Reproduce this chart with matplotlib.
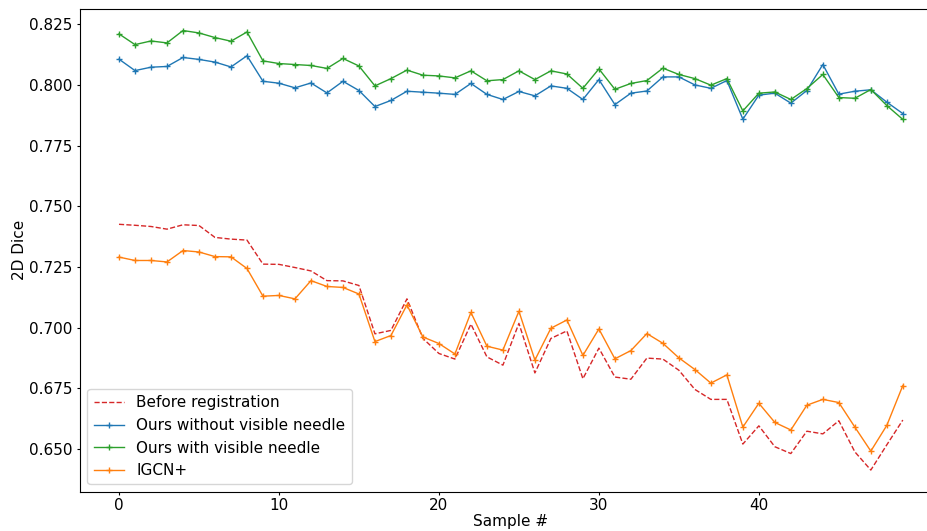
import matplotlib.pyplot as plt
import numpy as np

samples = np.arange(50)

before_registration = [
    0.7426, 0.7422, 0.7417, 0.7406, 0.7424, 0.7421, 0.7372, 0.7365, 0.7361, 0.7262,
    0.7261, 0.7248, 0.7234, 0.7194, 0.7193, 0.7174, 0.6975, 0.6989, 0.7119, 0.6956,
    0.6894, 0.6871, 0.7015, 0.6880, 0.6846, 0.7018, 0.6814, 0.6956, 0.6987, 0.6790,
    0.6916, 0.6797, 0.6788, 0.6875, 0.6871, 0.6825, 0.6746, 0.6705, 0.6705, 0.6521,
    0.6596, 0.6510, 0.6482, 0.6574, 0.6563, 0.6617, 0.6489, 0.6414, 0.6518, 0.6620,
]

ours_without_needle = [
    0.8106, 0.8059, 0.8073, 0.8076, 0.8113, 0.8105, 0.8094, 0.8074, 0.8120, 0.8015,
    0.8007, 0.7988, 0.8008, 0.7967, 0.8015, 0.7977, 0.7911, 0.7936, 0.7974, 0.7970,
    0.7966, 0.7961, 0.8006, 0.7961, 0.7940, 0.7973, 0.7955, 0.7996, 0.7986, 0.7940,
    0.8022, 0.7919, 0.7966, 0.7975, 0.8033, 0.8033, 0.8000, 0.7986, 0.8018, 0.7859,
    0.7958, 0.7966, 0.7925, 0.7977, 0.8084, 0.7962, 0.7974, 0.7980, 0.7929, 0.7882,
]

ours_with_needle = [
    0.8210, 0.8166, 0.8181, 0.8173, 0.8224, 0.8214, 0.8195, 0.8180, 0.8218, 0.8099,
    0.8088, 0.8084, 0.8080, 0.8068, 0.8109, 0.8078, 0.7996, 0.8026, 0.8061, 0.8040,
    0.8037, 0.8029, 0.8058, 0.8017, 0.8022, 0.8058, 0.8022, 0.8058, 0.8045, 0.7986,
    0.8066, 0.7982, 0.8006, 0.8018, 0.8069, 0.8043, 0.8026, 0.7999, 0.8026, 0.7893,
    0.7966, 0.7971, 0.7940, 0.7985, 0.8043, 0.7948, 0.7945, 0.7981, 0.7915, 0.7858,
]

igcn_plus = [
    0.7291, 0.7277, 0.7277, 0.7271, 0.7318, 0.7312, 0.7293, 0.7292, 0.7244, 0.7130,
    0.7133, 0.7119, 0.7194, 0.7170, 0.7166, 0.7139, 0.6943, 0.6968, 0.7094, 0.6962,
    0.6935, 0.6892, 0.7063, 0.6924, 0.6908, 0.7068, 0.6867, 0.6998, 0.7032, 0.6886,
    0.6995, 0.6872, 0.6906, 0.6976, 0.6936, 0.6876, 0.6828, 0.6772, 0.6806, 0.6591,
    0.6689, 0.6610, 0.6579, 0.6681, 0.6705, 0.6692, 0.6591, 0.6492, 0.6598, 0.6762,
]

x_ticks = [0, 10, 20, 30, 40]

fs = 11

fig = plt.figure(figsize=(9.28, 5.31), dpi=100)
# the original image is cropped on the right, so the axes run past the figure edge
ax = fig.add_axes([0.086, 0.0734, 0.9291, 0.9105])

ax.plot(samples, before_registration, "--", color="tab:red", lw=1.0,
        label="Before registration")
ax.plot(samples, ours_without_needle, "-", marker="+", ms=4, color="tab:blue", lw=1.0,
        label="Ours without visible needle")
ax.plot(samples, ours_with_needle, "-", marker="+", ms=4, color="tab:green", lw=1.0,
        label="Ours with visible needle")
ax.plot(samples, igcn_plus, "-", marker="+", ms=4, color="tab:orange", lw=1.0,
        label="IGCN+")

ax.set_xticks(x_ticks)
ax.set_xlabel("Sample #", fontsize=fs, labelpad=1)
ax.set_ylabel("2D Dice", fontsize=fs, labelpad=2)
ax.tick_params(labelsize=fs, length=2.5)
ax.tick_params(axis="x", pad=1.5)
ax.tick_params(axis="y", pad=2.5)
ax.legend(loc="lower left", fontsize=fs)

fig.savefig("out.png", dpi=100)
